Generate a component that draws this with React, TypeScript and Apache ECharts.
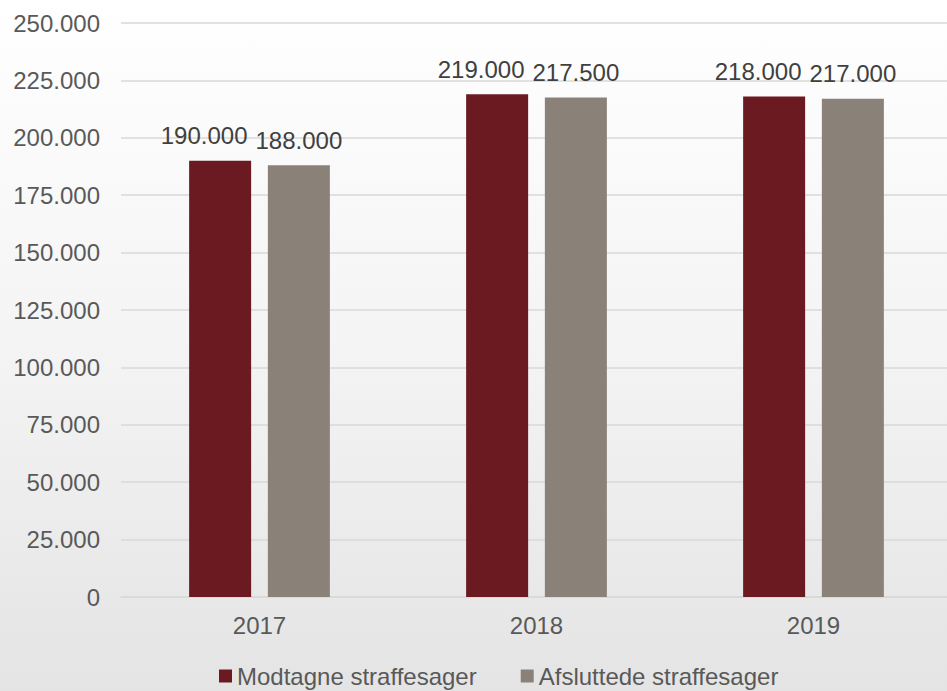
import React, { useEffect, useRef } from "react";
import * as echarts from "echarts";

const categories = ["2017", "2018", "2019"];
const seriesNames = ["Modtagne straffesager", "Afsluttede straffesager"];
const modtagne = [190000, 219000, 218000];
const afsluttede = [188000, 217500, 217000];
const colors = ["#6B1A22", "#8A8279"];

const fmt = (v: number) => {
  const s = Math.round(v).toString();
  return s.replace(/\B(?=(\d{3})+(?!\d))/g, ".");
};

export default function App() {
  const ref = useRef<HTMLDivElement>(null);
  useEffect(() => {
    if (!ref.current) return;
    const chart = echarts.init(ref.current, null, { renderer: "svg" });
    const font = "'Liberation Sans', Arial, sans-serif";
    chart.setOption({
      animation: false,
      textStyle: { fontFamily: font },
      grid: { left: 121, right: 0, top: 23, bottom: 94 },
      legend: {
        left: 214,
        top: 659,
        itemWidth: 13,
        itemHeight: 13,
        itemGap: 44,
        icon: "rect",
        textStyle: { fontSize: 24, color: "#595959", fontFamily: font },
        data: seriesNames,
      },
      xAxis: {
        type: "category",
        data: categories,
        axisLine: { lineStyle: { color: "#d9d9d9", width: 1.5 } },
        axisTick: { show: false },
        axisLabel: { fontSize: 24, color: "#595959", margin: 16, fontFamily: font },
      },
      yAxis: {
        type: "value",
        min: 0,
        max: 250000,
        interval: 25000,
        axisLine: { show: false },
        axisTick: { show: false },
        splitLine: { lineStyle: { color: "#d9d9d9", width: 1.5 } },
        axisLabel: {
          fontSize: 24,
          color: "#595959",
          margin: 21,
          fontFamily: font,
          formatter: (v: number) => fmt(v),
        },
      },
      series: [
        {
          name: seriesNames[0],
          type: "bar",
          data: modtagne,
          barWidth: 62,
          barGap: "27%",
          itemStyle: { color: colors[0] },
          label: {
            show: true,
            position: "top",
            distance: 13,
            offset: [-16, 0],
            fontSize: 24,
            color: "#404040",
            fontFamily: font,
            formatter: (p: any) => fmt(p.value),
          },
        },
        {
          name: seriesNames[1],
          type: "bar",
          data: afsluttede,
          barWidth: 62,
          barGap: "27%",
          itemStyle: { color: colors[1] },
          label: {
            show: true,
            position: "top",
            distance: 13,
            fontSize: 24,
            color: "#404040",
            fontFamily: font,
            formatter: (p: any) => fmt(p.value),
          },
        },
      ],
    });
    return () => chart.dispose();
  }, []);
  return (
    <div
      style={{
        position: "absolute",
        left: 0,
        top: 0,
        width: 947,
        height: 691,
        overflow: "hidden",
        background: "linear-gradient(to bottom, #ffffff 0%, #f4f4f4 50%, #e4e4e4 100%)",
      }}
    >
      <div ref={ref} style={{ width: 952, height: 691 }} />
    </div>
  );
}
